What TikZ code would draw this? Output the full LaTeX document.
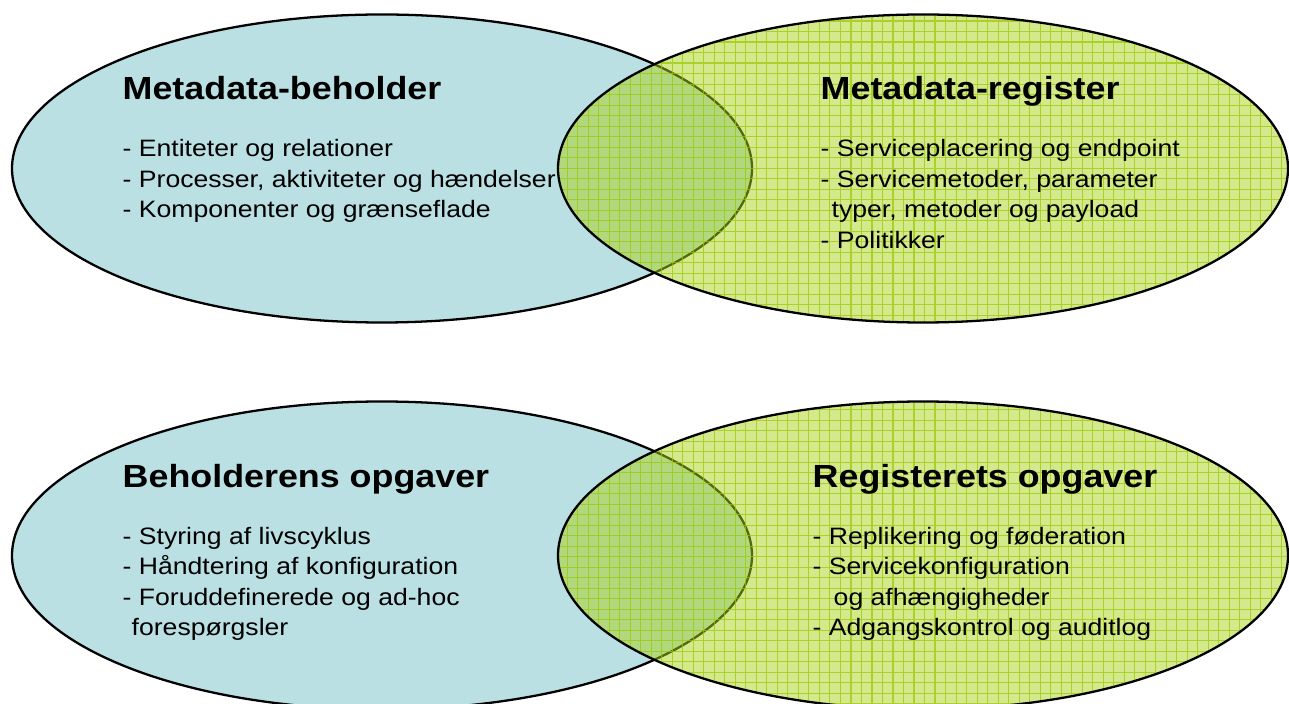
\documentclass[tikz,border=0pt]{standalone}
\usepackage{fontspec}
\setmainfont{Liberation Sans}[FakeStretch=1.12]
\definecolor{beholderblue}{HTML}{BAE0E3}
\definecolor{registergreen}{HTML}{A9D119}
\definecolor{gridgreen}{HTML}{99C800}

\begin{document}
\begin{tikzpicture}[x=0.01cm,y=-0.01cm,
    blob/.style={line width=0.65pt},
    patch/.style={registergreen, fill opacity=0.5},
    gridline/.style={gridgreen, opacity=0.7, line width=0.3pt},
    title/.style={anchor=base west, inner sep=0pt, font=\fontsize{9.1}{11}\selectfont\bfseries},
    item/.style={anchor=base west, inner sep=0pt, font=\fontsize{6.75}{8.7}\selectfont}]
    \clip (0,0) rectangle (1289,704);

    % top pair: beholder (blue) and register (green)
    \filldraw[blob, fill=beholderblue] (382,168.5) ellipse (370 and 154);
    \fill[patch] (923,168.5) ellipse (365 and 154);
    \begin{scope}
        \clip (923,168.5) ellipse (365 and 154);
        \draw[gridline] (550,330) grid[step=0.105cm] (1300,10);
    \end{scope}
    \draw[blob] (923,168.5) ellipse (365 and 154);

    % bottom pair: tasks
    \filldraw[blob, fill=beholderblue] (382,555.5) ellipse (370 and 154);
    \fill[patch] (923,555.5) ellipse (365 and 154);
    \begin{scope}
        \clip (923,555.5) ellipse (365 and 154);
        \draw[gridline] (550,715) grid[step=0.105cm] (1300,395);
    \end{scope}
    \draw[blob] (923,555.5) ellipse (365 and 154);

    % texts
    \node[title] (mbtitle) at (122,100) {Metadata-beholder};
    \foreach \txt [count=\i] in {{- Entiteter og relationer},
            {- Processer, aktiviteter og hændelser},
            {- Komponenter og grænseflade}}
        \node[item] (mb\i) at (122,{157+30.5*(\i-1)}) {\txt};

    \node[title] (mrtitle) at (820,100) {Metadata-register};
    \foreach \txt [count=\i] in {{- Serviceplacering og endpoint},
            {- Servicemetoder, parameter},
            {\hspace{0.11cm}typer, metoder og payload},
            {- Politikker}}
        \node[item] (mr\i) at (820,{157+30.5*(\i-1)}) {\txt};

    \node[title] (botitle) at (122,487) {Beholderens opgaver};
    \foreach \txt [count=\i] in {{- Styring af livscyklus},
            {- Håndtering af konfiguration},
            {- Foruddefinerede og ad-hoc},
            {\hspace{0.09cm}forespørgsler}}
        \node[item] (bo\i) at (122,{544+30.5*(\i-1)}) {\txt};

    \node[title] (rotitle) at (812,487) {Registerets opgaver};
    \foreach \txt [count=\i] in {{- Replikering og føderation},
            {- Servicekonfiguration},
            {\hspace{0.21cm}og afhængigheder},
            {- Adgangskontrol og auditlog}}
        \node[item] (ro\i) at (812,{544+30.5*(\i-1)}) {\txt};
\end{tikzpicture}
\end{document}
